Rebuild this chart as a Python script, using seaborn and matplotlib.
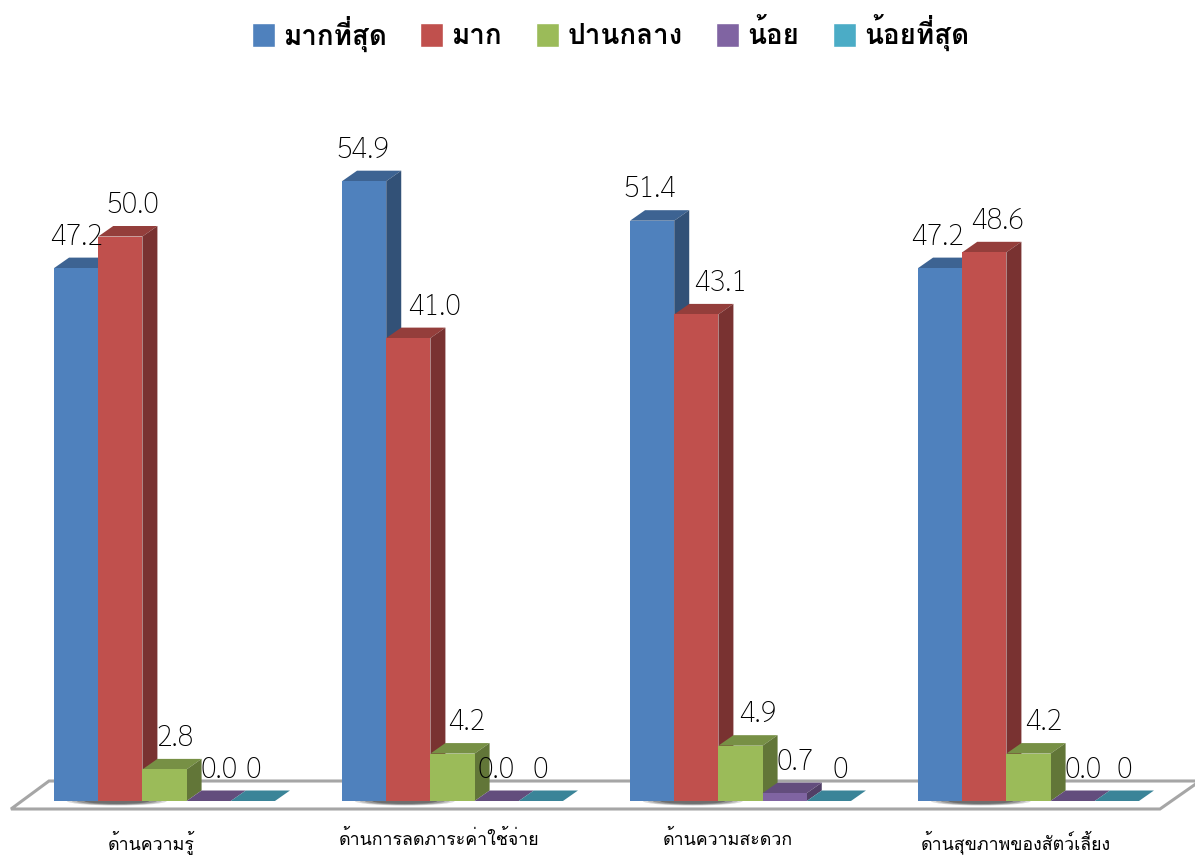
import numpy as np
import pandas as pd
import matplotlib
matplotlib.use('Agg')
import matplotlib.pyplot as plt
import matplotlib.colors as mcolors
from matplotlib.patches import Polygon, Ellipse
from matplotlib.transforms import ScaledTranslation
import seaborn as sns

categories = ['ด้านความรู้', 'ด้านการลดภาระค่าใช้จ่าย', 'ด้านความสะดวก', 'ด้านสุขภาพของสัตว์เลี้ยง']
levels = ['มากที่สุด', 'มาก', 'ปานกลาง', 'น้อย', 'น้อยที่สุด']
most = [47.2, 54.9, 51.4, 47.2]
much = [50.0, 41.0, 43.1, 48.6]
medium = [2.8, 4.2, 4.9, 4.2]
little = [0.0, 0.0, 0.7, 0.0]
least = [0, 0, 0, 0]
colors = ['#4F81BD', '#C0504D', '#9BBB59', '#8064A2', '#4BACC6']

df = pd.DataFrame({'cat': categories * 5,
                   'level': np.repeat(levels, 4),
                   'value': most + much + medium + little + least})

sns.set_style('white')
# Loma stacks the tone marks properly without text shaping
plt.rcParams['font.family'] = ['Loma', 'Sarabun', 'DejaVu Sans']
plt.rcParams['text.color'] = 'black'
plt.rcParams['xtick.color'] = 'black'

W, H = 1195, 857
fig = plt.figure(figsize=(W / 100, H / 100), dpi=100)
# axes placed so that one category = 288px and one value unit = 11.29px
ax = fig.add_axes([20.5 / W, (H - 801) / H, 1152 / W, 60 * 11.29 / H])

sns.barplot(data=df, x='cat', y='value', hue='level', palette=colors, saturation=1,
            width=0.767, gap=0, errorbar=None, ax=ax, zorder=5)
ax.set_xlim(-0.5, 3.5)
ax.set_ylim(0, 60)
ax.set_xlabel('')
ax.set_ylabel('')
ax.set_yticks([])
sns.despine(ax=ax, left=True, bottom=True)
ax.tick_params(axis='x', length=0, pad=21, labelsize=12.8)
shift = ScaledTranslation(-13 / 100, 0, fig.dpi_scale_trans)
for t in ax.get_xticklabels():
    t.set_transform(t.get_transform() + shift)

# fake 3d depth, in data units
dx = 15 / 288
dy = 10.5 / 11.29

# floor
px = lambda v: (v - 20.5) / 288 - 0.5
py = lambda v: (801 - v) / 11.29
floor = Polygon([(px(11), py(809)), (px(49), py(781)), (px(1200), py(781)), (px(1160), py(809))],
                closed=True, fc='white', ec='#A6A6A6', lw=2.2, clip_on=False, zorder=1, joinstyle='miter')
ax.add_patch(floor)

# data label nudges in px, same order as the bars
nudge = [[0, -1, -2, -3], [13, 26, 24, 13], [11, 14, 17, 15], [10, -1, 10, 10], [0, -1, 11, 7]]

for i, cont in enumerate(ax.containers):
    rgb = np.array(mcolors.to_rgb(colors[i]))
    for j, bar in enumerate(cont.patches):
        x0, w, h = bar.get_x(), bar.get_width(), bar.get_height()
        z = 5 + i * 0.1
        bar.set_zorder(z + 0.02)
        bar.set_edgecolor('none')
        bar.set_clip_on(False)
        top = Polygon([(x0, h), (x0 + dx, h + dy), (x0 + w + dx, h + dy), (x0 + w, h)],
                      fc=rgb * 0.77, ec='none', clip_on=False, zorder=z)
        side = Polygon([(x0 + w, 0), (x0 + w + dx, dy), (x0 + w + dx, h + dy), (x0 + w, h)],
                       fc=rgb * 0.63, ec='none', clip_on=False, zorder=z + 0.01)
        ax.add_patch(top)
        ax.add_patch(side)
        txt = str(int(h)) if i == 4 else f'{h:.1f}'
        ax.annotate(txt, (x0 + w / 2, h), xytext=(nudge[i][j] * 0.72, 31 * 0.72), textcoords='offset points',
                    ha='center', va='center', fontsize=21, family=['Sarabun', 'DejaVu Sans'], weight='light',
                    zorder=9, annotation_clip=False)

# soft shadow under the tall bars
for bar in ax.containers[0].patches:
    x0, w = bar.get_x(), bar.get_width()
    for k, a in zip([1.0, 0.9, 0.8, 0.65], [0.15, 0.15, 0.2, 0.25]):
        ax.add_patch(Ellipse((x0 + w * 1.42, 0), w * 2.26 * k, 9 / 11.29 * k, fc='black', alpha=a,
                             ec='none', clip_on=False, zorder=2))

leg = ax.legend(loc='center', bbox_to_anchor=(610.5 / W, (H - 33) / H), bbox_transform=fig.transFigure,
                ncol=5, frameon=False, handlelength=0.83, handleheight=0.95, handletextpad=0.29,
                columnspacing=1.22, prop={'size': 20, 'weight': 'bold'})
leg.set_title(None)

fig.savefig('out.png', dpi=100)
